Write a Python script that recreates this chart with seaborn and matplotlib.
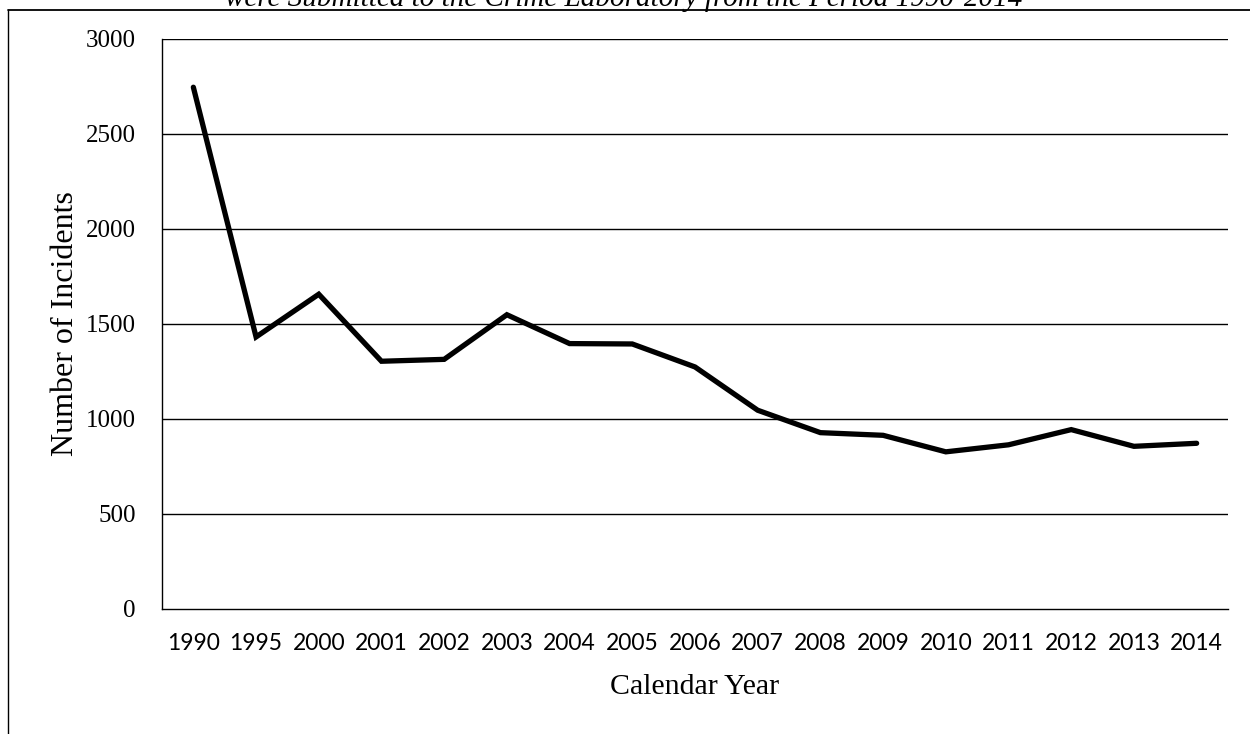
import matplotlib
matplotlib.use("Agg")
import matplotlib.pyplot as plt
import seaborn as sns
import pandas as pd
from matplotlib.lines import Line2D

years = ["1990", "1995", "2000", "2001", "2002", "2003", "2004", "2005", "2006",
         "2007", "2008", "2009", "2010", "2011", "2012", "2013", "2014"]
incidents = [2745, 1430, 1655, 1302, 1312, 1547, 1395, 1393, 1272,
             1044, 926, 912, 825, 862, 942, 854, 870]
y_ticks = [0, 500, 1000, 1500, 2000, 2500, 3000]
title_text = "were Submitted to the Crime Laboratory from the Period 1990-2014"
x_label = "Calendar Year"
y_label = "Number of Incidents"

sns.set_theme(style="white")
plt.rcParams["font.family"] = ["Liberation Serif", "DejaVu Serif"]

W, H = 1250, 734
fig = plt.figure(figsize=(W / 100, H / 100), dpi=100)
ax = fig.add_axes([162 / W, 1 - 608.5 / H, (1228 - 162) / W, (608.5 - 38.8) / H])

df = pd.DataFrame({"year": years, "count": incidents})
sns.lineplot(data=df, x="year", y="count", sort=False, color="black",
             linewidth=3.8, ax=ax, solid_joinstyle="miter")

ax.set_xlim(-0.5, len(years) - 0.5)
ax.set_ylim(0, 3000)
ax.set_yticks(y_ticks)
ax.set_yticklabels([str(v) for v in y_ticks], fontsize=18, family="Liberation Serif")
ax.set_xticks(range(len(years)))
ax.set_xticklabels(years, fontsize=16.5, family="Lato")
ax.tick_params(axis="x", length=0, pad=18, colors="black")
ax.tick_params(axis="y", length=0, pad=19, colors="black")

for v in y_ticks[1:]:
    ax.axhline(v, color="black", linewidth=1.0, zorder=0)

for s in ["top", "right"]:
    ax.spines[s].set_visible(False)
for s in ["left", "bottom"]:
    ax.spines[s].set_visible(True)
    ax.spines[s].set_color("black")
    ax.spines[s].set_linewidth(1.0)

ax.set_xlabel(x_label, fontsize=21.5, family="Liberation Serif", color="black")
ax.set_ylabel(y_label, fontsize=23, family="Liberation Serif", color="black", labelpad=4)
ax.xaxis.set_label_coords((695 - 162) / (1228 - 162), -(674 - 608.5) / (608.5 - 38.8))
ax.xaxis.label.set_va("top")
ax.grid(False)

# outer frame of the page figure (left and top edges)
fig.add_artist(Line2D([8 / W, 8 / W], [0, 1 - 10 / H], transform=fig.transFigure,
                      color="black", linewidth=1.0))
fig.add_artist(Line2D([8 / W, 1], [1 - 10 / H, 1 - 10 / H], transform=fig.transFigure,
                      color="black", linewidth=1.3))

fig.text(624 / W, 1 - 6 / H, title_text, ha="center", va="baseline",
         fontsize=21, style="italic", family="Liberation Serif", color="black")

fig.savefig("out.png", dpi=100, facecolor="white")
